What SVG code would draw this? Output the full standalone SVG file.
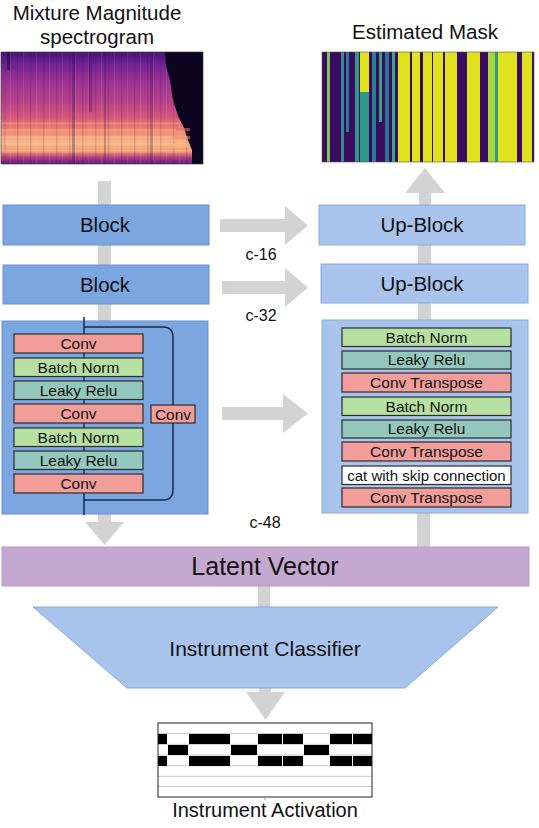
<svg xmlns="http://www.w3.org/2000/svg" width="539" height="828" viewBox="0 0 539 828">
<style>
text{font-family:"Liberation Sans",Arial,Helvetica,sans-serif;fill:#111;text-anchor:middle}
.enc{fill:#7ba6e0;stroke:#6890cc;stroke-width:1}
.dec{fill:#a9c4ec;stroke:#8aa9d8;stroke-width:1}
.conv{fill:#f29d99;stroke:#2a2a2a;stroke-width:1.2}
.bn{fill:#b7e1a1;stroke:#2a2a2a;stroke-width:1.2}
.lr{fill:#94c7bb;stroke:#2a2a2a;stroke-width:1.2}
.cat{fill:#ffffff;stroke:#2a2a2a;stroke-width:1.2}
.arr{fill:#d3d3d3}
.line{fill:none;stroke:#1a2a4a;stroke-width:1.5}
.big{font-size:20.5px}
.small{font-size:15.5px}
.lab{font-size:16px}
.grid{stroke:#c8c8c8;stroke-width:1}
</style>
<defs>
<linearGradient id="specV" x1="0" y1="0" x2="0" y2="1">
<stop offset="0" stop-color="#4a1478"/>
<stop offset="0.1" stop-color="#6e2290"/>
<stop offset="0.25" stop-color="#9a3294"/>
<stop offset="0.45" stop-color="#b8438a"/>
<stop offset="0.58" stop-color="#d4567a"/>
<stop offset="0.68" stop-color="#ec7c6c"/>
<stop offset="0.8" stop-color="#f8b486"/>
<stop offset="0.88" stop-color="#f3a074"/>
<stop offset="0.94" stop-color="#b4427e"/>
<stop offset="1" stop-color="#5e1c82"/>
</linearGradient>
<pattern id="streak" x="1" y="52" width="13" height="112" patternUnits="userSpaceOnUse">
<rect x="3" y="0" width="1.5" height="112" fill="#2a0a50" opacity="0.14"/>
<rect x="9" y="0" width="1" height="112" fill="#ffd0a0" opacity="0.1"/>
</pattern>
<pattern id="hband" x="1" y="52" width="203" height="7" patternUnits="userSpaceOnUse">
<rect x="0" y="0" width="203" height="2.5" fill="#ffe8b8" opacity="0.2"/>
</pattern>
</defs>

<!-- Input spectrogram -->
<g id="input-spectrogram">
<text x="97" y="20" style="font-size:20.5px">Mixture Magnitude</text>
<text x="97" y="44" style="font-size:20.5px">spectrogram</text>
<rect x="1" y="52" width="202" height="112" fill="url(#specV)"/>
<rect x="1" y="118" width="202" height="38" fill="url(#hband)"/>
<rect x="1" y="52" width="202" height="112" fill="url(#streak)"/>
<rect x="72" y="52" width="3" height="112" fill="#2a0a50" opacity="0.3"/>
<rect x="89" y="52" width="3" height="60" fill="#2a0a50" opacity="0.3"/>
<rect x="104" y="52" width="2" height="112" fill="#2a0a50" opacity="0.25"/>
<rect x="7" y="52" width="3" height="18" fill="#1a0530" opacity="0.5"/>
<rect x="150" y="52" width="3" height="112" fill="#2a0a50" opacity="0.25"/>
<polygon points="165,52 203,52 203,164 192,164 192,150 188,140 184,128 178,116 173,100 170,80 166,66" fill="#0d0520"/>
<rect x="176" y="128" width="14" height="3" fill="#e0706a" opacity="0.6"/>
<rect x="172" y="136" width="18" height="3" fill="#f0906a" opacity="0.6"/>
<rect x="168" y="144" width="22" height="4" fill="#f8b07a" opacity="0.7"/>
<rect x="1" y="52" width="202" height="112" fill="none" stroke="#333" stroke-width="0.6"/>
</g>

<!-- Estimated mask -->
<g id="estimated-mask">
<text x="425" y="39" style="font-size:20.5px">Estimated Mask</text>
<rect x="322" y="52" width="212" height="110" fill="#3b0b62"/>
<g fill="#dfe21c">
<rect x="327" y="52" width="3" height="110" fill="#7ec84a"/>
<rect x="341" y="52" width="3" height="110" fill="#2f8f8a"/>
<rect x="346" y="52" width="3" height="80" fill="#2a7d8c"/>
<rect x="355" y="52" width="4" height="110" fill="#2f9a84"/>
<rect x="360" y="52" width="9" height="40"/>
<rect x="360" y="92" width="9" height="70" fill="#2e9688"/>
<rect x="372" y="52" width="4" height="110" fill="#2a7f8c"/>
<rect x="379" y="52" width="3" height="70" fill="#36a07f"/>
<rect x="385" y="52" width="4" height="110" fill="#287a8e"/>
<rect x="392" y="52" width="3" height="110" fill="#36a880"/>
<rect x="398" y="52" width="12" height="110"/>
<rect x="412" y="52" width="8" height="110"/>
<rect x="423" y="52" width="9" height="110"/>
<rect x="433" y="52" width="10" height="110"/>
<rect x="445" y="52" width="12" height="110"/>
<rect x="467" y="52" width="13" height="110"/>
<rect x="488" y="52" width="7" height="110" fill="#a5d93a"/>
<rect x="495" y="52" width="3" height="110" fill="#2f9a84"/>
<rect x="498" y="52" width="19" height="110"/>
<rect x="522" y="52" width="10" height="110"/>
</g>
<rect x="322" y="52" width="212" height="110" fill="none" stroke="#555" stroke-width="0.6"/>
</g>

<!-- Connectors -->
<g id="connectors">
<rect class="arr" x="98" y="181" width="13" height="24"/>
<rect class="arr" x="98" y="245" width="13" height="20"/>
<rect class="arr" x="98" y="304" width="13" height="17"/>
<polygon class="arr" points="98,514 111,514 111,522 124,522 104.5,545 85,522 98,522"/>
<polygon class="arr" points="419,205 431,205 431,193 445,193 425,168 405,193 419,193"/>
<rect class="arr" x="418" y="245" width="13" height="19"/>
<rect class="arr" x="418" y="303" width="13" height="17"/>
<rect class="arr" x="417" y="512" width="13" height="35"/>
<polygon class="arr" points="220,219 285,219 285,206 308,225.5 285,245 285,232 220,232"/>
<polygon class="arr" points="222,281 285,281 285,268 308,287.5 285,307 285,294 222,294"/>
<polygon class="arr" points="222,407 283,407 283,394 308,413.5 283,433 283,420 222,420"/>
<rect class="arr" x="258" y="586" width="12" height="21"/>
<polygon class="arr" points="259,688 271,688 271,692 285,692 265.5,720 246,692 259,692"/>
</g>

<!-- Encoder blocks -->
<g id="block-1">
<rect class="enc" x="3" y="205" width="206" height="40"/>
<text class="big" x="105" y="232">Block</text>
</g>
<g id="block-2">
<rect class="enc" x="3" y="265" width="206" height="39"/>
<text class="big" x="105" y="292">Block</text>
</g>
<g id="label-c16"><text class="lab" x="261" y="260">c-16</text></g>
<g id="label-c32"><text class="lab" x="261" y="321">c-32</text></g>
<g id="label-c48"><text class="lab" x="265" y="528">c-48</text></g>

<g id="encoder-block">
<rect class="enc" x="2" y="321" width="206" height="193"/>
<line class="line" x1="84" y1="317" x2="84" y2="515"/>
<path class="line" d="M84,327 H163 Q173,327 173,337 V490 Q173,500 163,500 H84"/>
<rect class="conv" x="14" y="334" width="129" height="19"/>
<text class="small" x="78.5" y="349">Conv</text>
<rect class="bn" x="14" y="358" width="129" height="18.5"/>
<text class="small" x="78.5" y="372.5">Batch Norm</text>
<rect class="lr" x="14" y="381" width="129" height="18.5"/>
<text class="small" x="78.5" y="395.5">Leaky Relu</text>
<rect class="conv" x="14" y="404" width="129" height="19"/>
<text class="small" x="78.5" y="419">Conv</text>
<rect class="bn" x="14" y="428" width="129" height="18.5"/>
<text class="small" x="78.5" y="442.5">Batch Norm</text>
<rect class="lr" x="14" y="451" width="129" height="18.5"/>
<text class="small" x="78.5" y="465.5">Leaky Relu</text>
<rect class="conv" x="14" y="474" width="129" height="19"/>
<text class="small" x="78.5" y="489">Conv</text>
<rect class="conv" x="151" y="405" width="44" height="18"/>
<text class="small" x="173" y="419.5">Conv</text>
</g>

<!-- Decoder blocks -->
<g id="up-block-1">
<rect class="dec" x="319" y="205" width="206" height="40"/>
<text class="big" x="422" y="232">Up-Block</text>
</g>
<g id="up-block-2">
<rect class="dec" x="321" y="264" width="207" height="39"/>
<text class="big" x="422" y="291">Up-Block</text>
</g>
<g id="decoder-block">
<rect class="dec" x="322" y="320" width="206" height="193"/>
<rect class="bn" x="342" y="328" width="169" height="18.5"/>
<text class="small" x="426.5" y="342.5">Batch Norm</text>
<rect class="lr" x="342" y="351" width="169" height="18"/>
<text class="small" x="426.5" y="365">Leaky Relu</text>
<rect class="conv" x="342" y="373" width="169" height="19"/>
<text class="small" x="426.5" y="388">Conv Transpose</text>
<rect class="bn" x="342" y="397" width="169" height="18.5"/>
<text class="small" x="426.5" y="411.5">Batch Norm</text>
<rect class="lr" x="342" y="420" width="169" height="18"/>
<text class="small" x="426.5" y="434">Leaky Relu</text>
<rect class="conv" x="342" y="442" width="169" height="19"/>
<text class="small" x="426.5" y="457">Conv Transpose</text>
<rect class="cat" x="342" y="466" width="169" height="18.5"/>
<text x="426.5" y="480.5" style="font-size:15px">cat with skip connection</text>
<rect class="conv" x="342" y="488" width="169" height="19"/>
<text class="small" x="426.5" y="503">Conv Transpose</text>
</g>

<g id="latent-vector">
<rect x="2" y="547" width="527" height="39" fill="#c4a8d0" stroke="#b49ac2" stroke-width="1"/>
<text x="265" y="575" style="font-size:25px">Latent Vector</text>
</g>

<g id="instrument-classifier">
<polygon points="33,607 498,607 405,688 127,688" fill="#a9c4ec" stroke="#8aa9d8" stroke-width="1"/>
<text x="265" y="656" style="font-size:21px">Instrument Classifier</text>
</g>

<g id="instrument-activation">
<rect x="158" y="723" width="214" height="74" fill="#fff"/>
<g class="grid">
<line x1="158" y1="733.5" x2="372" y2="733.5"/>
<line x1="158" y1="744.3" x2="372" y2="744.3"/>
<line x1="158" y1="755" x2="372" y2="755"/>
<line x1="158" y1="765.8" x2="372" y2="765.8"/>
<line x1="158" y1="776.3" x2="372" y2="776.3"/>
<line x1="158" y1="786.5" x2="372" y2="786.5"/>
</g>
<g fill="#000">
<rect x="158" y="734" width="9" height="10"/>
<rect x="189" y="734" width="41" height="10"/>
<rect x="258" y="734" width="24" height="10"/>
<rect x="283" y="734" width="20" height="10"/>
<rect x="330" y="734" width="22" height="10"/>
<rect x="353" y="734" width="19" height="10"/>
<rect x="168" y="745" width="20" height="10"/>
<rect x="231" y="745" width="26" height="10"/>
<rect x="304" y="745" width="25" height="10"/>
<rect x="158" y="756" width="9" height="10"/>
<rect x="189" y="756" width="41" height="10"/>
<rect x="258" y="756" width="24" height="10"/>
<rect x="283" y="756" width="20" height="10"/>
<rect x="330" y="756" width="22" height="10"/>
<rect x="353" y="756" width="19" height="10"/>
</g>
<rect x="158" y="723" width="214" height="74" fill="none" stroke="#222" stroke-width="1"/>
<line x1="265" y1="797" x2="265" y2="800" stroke="#888" stroke-width="0.8"/>
<text x="265" y="817" style="font-size:20px">Instrument Activation</text>
</g>
</svg>
